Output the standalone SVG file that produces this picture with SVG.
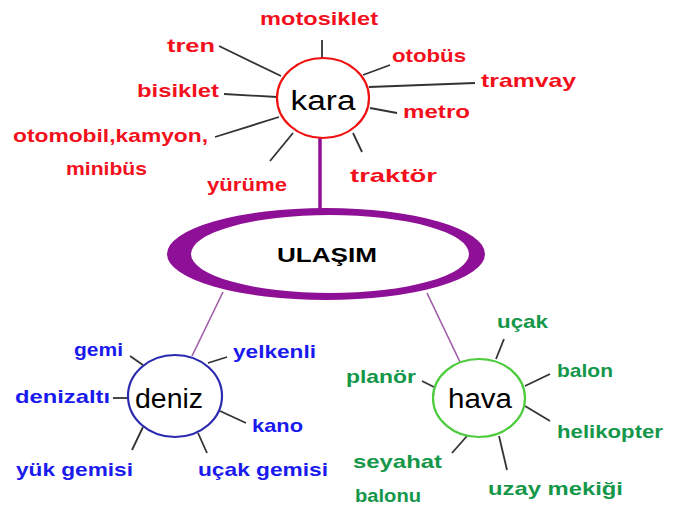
<svg xmlns="http://www.w3.org/2000/svg" width="673" height="509" viewBox="0 0 673 509">
<style>
.lbl{font-family:"Liberation Sans",Arial,sans-serif;font-weight:bold;font-size:19px}
.r{fill:#f2101c}
.b{fill:#1a1aee}
.g{fill:#15974a}
.hub{font-family:"Liberation Sans",Arial,sans-serif;font-size:27px;fill:#000;text-anchor:middle}
.sp{stroke:#333;stroke-width:1.8;fill:none}
.pl{stroke:#a05aa8;stroke-width:1.6;fill:none}
</style>
<rect width="673" height="509" fill="#fff"/>
<g id="connectors">
<line class="sp" x1="322" y1="40" x2="322" y2="59"/>
<line class="sp" x1="219" y1="46" x2="281" y2="76"/>
<line class="sp" x1="224" y1="94" x2="277" y2="97"/>
<line class="sp" x1="215" y1="137" x2="279" y2="117"/>
<line class="sp" x1="270" y1="161" x2="293" y2="133"/>
<line class="sp" x1="363" y1="75" x2="390" y2="65"/>
<line class="sp" x1="369" y1="87" x2="475" y2="83"/>
<line class="sp" x1="370" y1="108" x2="397" y2="113"/>
<line class="sp" x1="353" y1="133" x2="362" y2="152"/>
<line x1="320" y1="138" x2="320" y2="210" stroke="#8e1096" stroke-width="3.5"/>
<line class="pl" x1="223" y1="292" x2="192" y2="356"/>
<line class="pl" x1="427" y1="293" x2="460" y2="362"/>
<line class="sp" x1="130" y1="356" x2="143" y2="365"/>
<line class="sp" x1="113" y1="398" x2="128" y2="398"/>
<line class="sp" x1="208" y1="363" x2="227" y2="357"/>
<line class="sp" x1="220" y1="411" x2="246" y2="423"/>
<line class="sp" x1="143" y1="427" x2="132" y2="450"/>
<line class="sp" x1="198" y1="433" x2="207" y2="453"/>
<line class="sp" x1="496" y1="359" x2="504" y2="339"/>
<line class="sp" x1="525" y1="386" x2="550" y2="374"/>
<line class="sp" x1="525" y1="406" x2="550" y2="421"/>
<line class="sp" x1="422" y1="381" x2="434" y2="387"/>
<line class="sp" x1="467" y1="436" x2="452" y2="453"/>
<line class="sp" x1="499" y1="436" x2="507" y2="470"/>
</g>
<g id="ulasim">
<path fill="#8e1096" fill-rule="evenodd" d="M167,254 a159,46 0 1,0 318,0 a159,46 0 1,0 -318,0 Z M191,254 a139,39 0 1,0 278,0 a139,39 0 1,0 -278,0 Z"/>
<text x="327" y="262" text-anchor="middle" font-family="Liberation Sans,Arial,sans-serif" font-weight="bold" font-size="21" textLength="100" lengthAdjust="spacingAndGlyphs" fill="#000">ULAŞIM</text>
</g>
<g id="kara">
<ellipse cx="323" cy="98" rx="46" ry="40" fill="#fff" stroke="#f01010" stroke-width="2.2"/>
<text class="hub" x="323" y="110" textLength="65" lengthAdjust="spacingAndGlyphs">kara</text>
</g>
<g id="deniz">
<ellipse cx="175" cy="396" rx="47" ry="41" fill="#fff" stroke="#2a2ab0" stroke-width="2.2"/>
<text class="hub" x="169" y="408" textLength="68" lengthAdjust="spacingAndGlyphs">deniz</text>
</g>
<g id="hava">
<ellipse cx="479" cy="398" rx="46" ry="39" fill="#fff" stroke="#4ccc3c" stroke-width="2.2"/>
<text class="hub" x="480" y="408" textLength="64" lengthAdjust="spacingAndGlyphs">hava</text>
</g>
<g id="kara-labels" class="lbl r">
<text x="260" y="25" textLength="118" lengthAdjust="spacingAndGlyphs">motosiklet</text>
<text x="167" y="52" textLength="48" lengthAdjust="spacingAndGlyphs">tren</text>
<text x="137" y="97" textLength="82" lengthAdjust="spacingAndGlyphs">bisiklet</text>
<text x="13" y="142" textLength="195" lengthAdjust="spacingAndGlyphs">otomobil,kamyon,</text>
<text x="66" y="175" textLength="81" lengthAdjust="spacingAndGlyphs">minibüs</text>
<text x="207" y="191" textLength="80" lengthAdjust="spacingAndGlyphs">yürüme</text>
<text x="392" y="62" textLength="74" lengthAdjust="spacingAndGlyphs">otobüs</text>
<text x="481" y="87" textLength="95" lengthAdjust="spacingAndGlyphs">tramvay</text>
<text x="403" y="118" textLength="67" lengthAdjust="spacingAndGlyphs">metro</text>
<text x="350" y="182" textLength="87" lengthAdjust="spacingAndGlyphs">traktör</text>
</g>
<g id="deniz-labels" class="lbl b">
<text x="74" y="356" textLength="49" lengthAdjust="spacingAndGlyphs">gemi</text>
<text x="15" y="403" textLength="95" lengthAdjust="spacingAndGlyphs">denizaltı</text>
<text x="233" y="358" textLength="83" lengthAdjust="spacingAndGlyphs">yelkenli</text>
<text x="252" y="432" textLength="51" lengthAdjust="spacingAndGlyphs">kano</text>
<text x="16" y="476" textLength="117" lengthAdjust="spacingAndGlyphs">yük gemisi</text>
<text x="198" y="476" textLength="130" lengthAdjust="spacingAndGlyphs">uçak gemisi</text>
</g>
<g id="hava-labels" class="lbl g">
<text x="497" y="328" textLength="51" lengthAdjust="spacingAndGlyphs">uçak</text>
<text x="557" y="377" textLength="56" lengthAdjust="spacingAndGlyphs">balon</text>
<text x="557" y="438" textLength="106" lengthAdjust="spacingAndGlyphs">helikopter</text>
<text x="346" y="383" textLength="70" lengthAdjust="spacingAndGlyphs">planör</text>
<text x="353" y="468" textLength="89" lengthAdjust="spacingAndGlyphs">seyahat</text>
<text x="355" y="502" textLength="66" lengthAdjust="spacingAndGlyphs">balonu</text>
<text x="488" y="495" textLength="135" lengthAdjust="spacingAndGlyphs">uzay mekiği</text>
</g>
</svg>
